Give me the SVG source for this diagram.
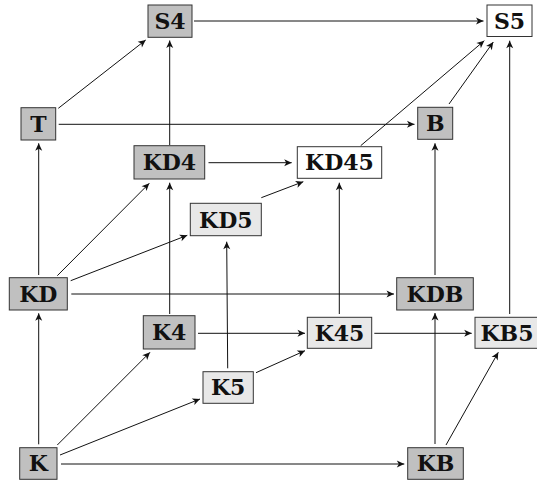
<svg xmlns="http://www.w3.org/2000/svg" width="537" height="480" viewBox="0 0 537 480">
<defs>
<style>
.n rect{stroke:#333;stroke-width:1}
.d rect{fill:#c0c0c0}
.l rect{fill:#e8e8e8}
.w rect{fill:#fff}
.n text{font-family:"DejaVu Serif","Liberation Serif",serif;font-weight:bold;font-size:22px;fill:#111;text-anchor:middle}
#edges line{stroke:#111;stroke-width:1;marker-end:url(#ah)}
</style>
<marker id="ah" viewBox="-8 -4 9 8" refX="0" refY="0" markerWidth="9" markerHeight="8" markerUnits="userSpaceOnUse" orient="auto">
<path d="M0,0 L-7.5,-3.5 L-5.5,0 L-7.5,3.5 Z" fill="#111"/>
</marker>
</defs>
<rect width="537" height="480" fill="#fff"/>
<g id="edges">
<line x1="58.3" y1="108.3" x2="145.7" y2="40"/>
<line x1="169.7" y1="145" x2="169.7" y2="40.5"/>
<line x1="194" y1="21" x2="483.5" y2="21"/>
<line x1="58.7" y1="124.3" x2="414.5" y2="124.3"/>
<line x1="449" y1="104" x2="493.3" y2="42"/>
<line x1="360.7" y1="145.7" x2="484.3" y2="40.7"/>
<line x1="509.7" y1="314" x2="509.7" y2="40.7"/>
<line x1="435" y1="275" x2="435" y2="143.3"/>
<line x1="38.7" y1="275" x2="38.7" y2="143.3"/>
<line x1="57.3" y1="275.7" x2="149.3" y2="183.3"/>
<line x1="169.7" y1="314" x2="169.7" y2="182.7"/>
<line x1="70.7" y1="280.7" x2="187.3" y2="235.3"/>
<line x1="208.5" y1="162.7" x2="291.7" y2="162.7"/>
<line x1="261.3" y1="197.7" x2="303.3" y2="181.7"/>
<line x1="227.7" y1="368.3" x2="226.7" y2="241.7"/>
<line x1="339.3" y1="314" x2="339.3" y2="182.7"/>
<line x1="71.3" y1="294" x2="394" y2="294"/>
<line x1="435" y1="444" x2="435" y2="313"/>
<line x1="38.7" y1="444.3" x2="38.7" y2="313.3"/>
<line x1="57.3" y1="445" x2="150" y2="352.3"/>
<line x1="60" y1="455" x2="200" y2="399"/>
<line x1="61" y1="464" x2="404.3" y2="464"/>
<line x1="198" y1="333.3" x2="305" y2="333.3"/>
<line x1="256" y1="372.7" x2="305" y2="350.7"/>
<line x1="374.3" y1="333.3" x2="471.7" y2="333.3"/>
<line x1="446" y1="445" x2="498.3" y2="352.3"/>
</g>
<g id="S4" class="n d"><rect x="148" y="5" width="44" height="32.3"/><text x="170" y="29.1">S4</text></g>
<g id="S5" class="n w"><rect x="487" y="5" width="45" height="31.5"/><text x="509.5" y="28.8">S5</text></g>
<g id="T" class="n d"><rect x="21" y="107.7" width="34.7" height="32.3"/><text x="38.4" y="131.9">T</text></g>
<g id="B" class="n d"><rect x="417.7" y="107.3" width="35" height="32"/><text x="435.2" y="131.4">B</text></g>
<g id="KD4" class="n d"><rect x="134" y="145.7" width="70.7" height="33.3"/><text x="169.4" y="170.4">KD4</text></g>
<g id="KD45" class="n w"><rect x="297.3" y="146.7" width="84.4" height="31.6"/><text x="339.5" y="170.4">KD45</text></g>
<g id="KD5" class="n l"><rect x="190.3" y="203.3" width="71" height="32.4"/><text x="225.8" y="227.5">KD5</text></g>
<g id="KD" class="n d"><rect x="9.3" y="277.7" width="58" height="32.3"/><text x="38.3" y="301.8">KD</text></g>
<g id="KDB" class="n d"><rect x="396.7" y="277.7" width="76.6" height="32.3"/><text x="435" y="301.8">KDB</text></g>
<g id="K4" class="n d"><rect x="143.3" y="315.7" width="51.7" height="33.3"/><text x="169.2" y="340.4">K4</text></g>
<g id="K45" class="n l"><rect x="307.3" y="317.3" width="64.4" height="31"/><text x="339.5" y="340.8">K45</text></g>
<g id="KB5" class="n l"><rect x="475" y="317.3" width="64" height="31"/><text x="507" y="340.8">KB5</text></g>
<g id="K5" class="n l"><rect x="203" y="371.7" width="50.3" height="31.6"/><text x="228.1" y="395.4">K5</text></g>
<g id="K" class="n d"><rect x="19.7" y="447.7" width="37.3" height="31.6"/><text x="38.3" y="471.4">K</text></g>
<g id="KB" class="n d"><rect x="407.7" y="447.7" width="55.6" height="31.6"/><text x="435.5" y="471.4">KB</text></g>
</svg>
